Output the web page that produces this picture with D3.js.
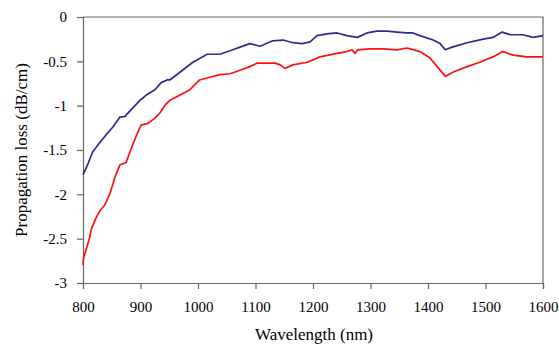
<!DOCTYPE html>
<html>
<head>
<meta charset="utf-8">
<script src="https://cdn.jsdelivr.net/npm/d3@7"></script>
<style>
  html, body { margin: 0; padding: 0; background: #fff; }
  svg { display: block; }
  text { font-family: "Times New Roman", Times, "Liberation Serif", Tinos, "Noto Serif", "DejaVu Serif", serif; fill: #000; }
</style>
</head>
<body>
<div id="chart"></div>
<script>
// wavelength (nm) and loss (dB/cm)
const blueWl = [800, 809, 817, 830, 840, 852, 864, 873, 883, 899, 910, 925, 936, 946, 951, 969, 991, 1016, 1038, 1056, 1073, 1090, 1108, 1129, 1148, 1165, 1181, 1195, 1207, 1224, 1242, 1259, 1277, 1294, 1311, 1329, 1346, 1363, 1374, 1386, 1409, 1421, 1430, 1442, 1468, 1496, 1513, 1529, 1543, 1565, 1583, 1600];
const blueLoss = [-1.78, -1.65, -1.52, -1.41, -1.33, -1.24, -1.13, -1.12, -1.05, -0.94, -0.88, -0.82, -0.74, -0.71, -0.71, -0.62, -0.51, -0.42, -0.42, -0.38, -0.34, -0.30, -0.33, -0.27, -0.26, -0.29, -0.30, -0.28, -0.21, -0.19, -0.18, -0.21, -0.23, -0.18, -0.16, -0.16, -0.17, -0.18, -0.18, -0.21, -0.26, -0.30, -0.37, -0.34, -0.29, -0.25, -0.23, -0.17, -0.20, -0.20, -0.23, -0.21];

const redWl = [800, 801, 805, 812, 814, 823, 830, 838, 847, 856, 864, 875, 883, 892, 901, 913, 925, 934, 943, 951, 969, 986, 1003, 1021, 1038, 1056, 1073, 1090, 1103, 1120, 1134, 1143, 1151, 1165, 1190, 1212, 1242, 1259, 1268, 1273, 1278, 1299, 1322, 1346, 1363, 1369, 1386, 1403, 1416, 1430, 1444, 1468, 1490, 1513, 1530, 1548, 1572, 1600];
const redLoss = [-2.80, -2.72, -2.63, -2.48, -2.40, -2.26, -2.18, -2.12, -1.99, -1.80, -1.67, -1.64, -1.50, -1.35, -1.22, -1.20, -1.14, -1.08, -0.99, -0.94, -0.88, -0.82, -0.71, -0.68, -0.65, -0.64, -0.60, -0.56, -0.52, -0.52, -0.52, -0.54, -0.58, -0.54, -0.51, -0.45, -0.41, -0.39, -0.37, -0.41, -0.37, -0.36, -0.36, -0.37, -0.35, -0.36, -0.39, -0.46, -0.56, -0.67, -0.62, -0.56, -0.51, -0.45, -0.39, -0.43, -0.45, -0.45];

const xTicks = [800, 900, 1000, 1100, 1200, 1300, 1400, 1500, 1600];
const yTicks = [0, -0.5, -1, -1.5, -2, -2.5, -3];

const width = 559, height = 345;
const margin = {top: 17, right: 16, bottom: 62, left: 83};

const svg = d3.select("#chart")
    .append("svg")
    .attr("width", width)
    .attr("height", height);

const x = d3.scaleLinear()
    .domain([800, 1600])
    .range([margin.left, width - margin.right]);

const y = d3.scaleLinear()
    .domain([-3, 0])
    .range([height - margin.bottom, margin.top]);

const axisColor = "#666";

// plot frame (top and right)
svg.append("path")
    .attr("d", `M${x(800)},${y(0)}H${x(1600)}V${y(-3)}`)
    .attr("fill", "none")
    .attr("stroke", axisColor)
    .attr("stroke-width", 1.2);

const xAxis = svg.append("g")
    .attr("transform", `translate(0,${y(-3)})`)
    .call(d3.axisBottom(x).tickValues(xTicks).tickSize(6).tickPadding(12).tickFormat(d3.format("d")));

const yAxis = svg.append("g")
    .attr("transform", `translate(${x(800)},0)`)
    .call(d3.axisLeft(y).tickValues(yTicks).tickSize(6).tickPadding(10).tickFormat(d => d === 0 ? "0" : String(d)));

[xAxis, yAxis].forEach(a => {
    a.attr("font-family", null);
    a.select(".domain").attr("stroke", axisColor).attr("stroke-width", 1.2);
    a.selectAll(".tick line").attr("stroke", axisColor).attr("stroke-width", 1.2);
    a.selectAll(".tick text")
        .attr("font-size", 15)
        .attr("fill", "#000");
});

const line = d3.line()
    .x(d => x(d[0]))
    .y(d => y(d[1]));

svg.append("path")
    .datum(d3.zip(blueWl, blueLoss))
    .attr("fill", "none")
    .attr("stroke", "#2b2b92")
    .attr("stroke-width", 1.7)
    .attr("stroke-linejoin", "round")
    .attr("d", line);

svg.append("path")
    .datum(d3.zip(redWl, redLoss))
    .attr("fill", "none")
    .attr("stroke", "#ff1010")
    .attr("stroke-width", 1.7)
    .attr("stroke-linejoin", "round")
    .attr("d", line);

// axis titles
svg.append("text")
    .attr("x", 314)
    .attr("y", 340)
    .attr("text-anchor", "middle")
    .attr("font-size", 17)
    .text("Wavelength (nm)");

svg.append("text")
    .attr("transform", `translate(27,${(y(0) + y(-3)) / 2}) rotate(-90)`)
    .attr("text-anchor", "middle")
    .attr("font-size", 17)
    .text("Propagation loss (dB/cm)");
</script>
</body>
</html>
